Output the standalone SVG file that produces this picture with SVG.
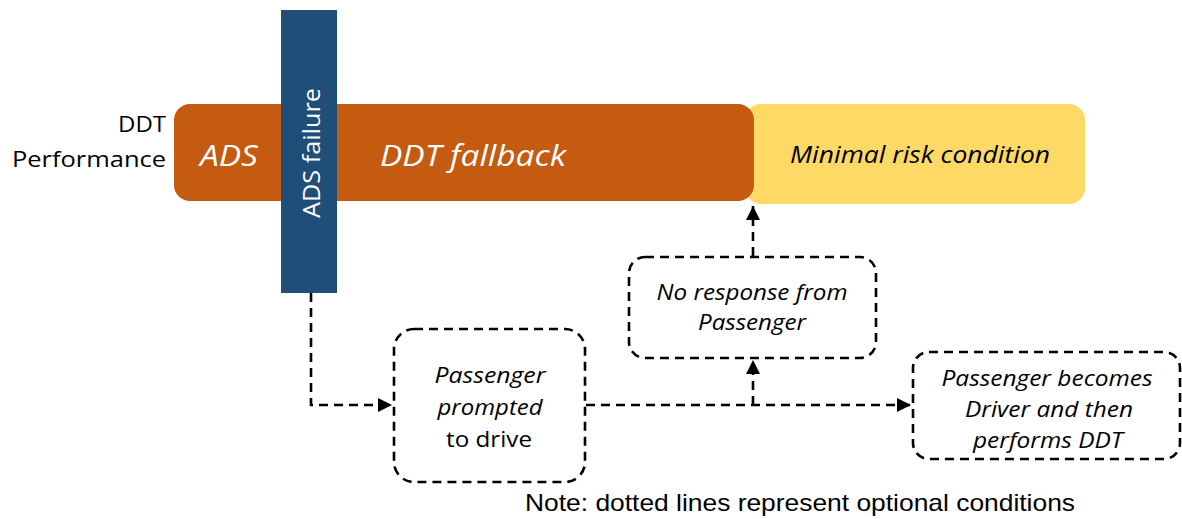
<svg xmlns="http://www.w3.org/2000/svg" width="1182" height="519" viewBox="0 0 1182 519">
<defs>
<style>
.lbl{font-family:"Open Sans","Noto Sans","Liberation Sans",sans-serif;}
.it{font-style:italic;}
.dash{fill:none;stroke:#000;stroke-width:2.6;stroke-dasharray:9,6;}
.box{fill:#fff;stroke:#000;stroke-width:2.6;stroke-dasharray:9,6;}
</style>
<marker id="ah" viewBox="0 0 10 10" refX="10" refY="5" markerWidth="5.5" markerHeight="5.5" orient="auto" markerUnits="strokeWidth">
<path d="M0,0 L10,5 L0,10 z" fill="#000"/>
</marker>
</defs>
<rect width="1182" height="519" fill="#fff"/>
<g id="label-ddt">
<text class="lbl" x="166" y="132" font-size="22" text-anchor="end" fill="#000" textLength="48" lengthAdjust="spacingAndGlyphs">DDT</text>
<text class="lbl" x="166" y="167" font-size="22" text-anchor="end" fill="#000" textLength="154" lengthAdjust="spacingAndGlyphs">Performance</text>
</g>
<g id="node-mrc">
<rect x="745" y="104" width="340" height="100" rx="16" fill="#FFD966"/>
<text class="lbl it" x="920" y="163" font-size="23" text-anchor="middle" fill="#000" textLength="260" lengthAdjust="spacingAndGlyphs">Minimal risk condition</text>
</g>
<g id="node-ddt">
<rect x="174" y="104" width="580" height="97" rx="16" fill="#C55A11"/>
<text class="lbl it" x="229" y="166" font-size="29" text-anchor="middle" fill="#fff" textLength="58" lengthAdjust="spacingAndGlyphs">ADS</text>
<text class="lbl it" x="473" y="166" font-size="29" text-anchor="middle" fill="#fff" textLength="186" lengthAdjust="spacingAndGlyphs">DDT fallback</text>
</g>
<g id="node-failure">
<rect x="281" y="10" width="56" height="283" fill="#1F4E79"/>
<text class="lbl" transform="translate(320,153) rotate(-90)" font-size="23" text-anchor="middle" fill="#fff" textLength="130" lengthAdjust="spacingAndGlyphs">ADS failure</text>
</g>
<g id="connectors">
<path class="dash" d="M311,293 V405 H392" marker-end="url(#ah)"/>
<path class="dash" d="M586,405 H911" marker-end="url(#ah)"/>
<path class="dash" d="M753,405 V360" marker-end="url(#ah)"/>
<path class="dash" d="M753,256 V206" marker-end="url(#ah)"/>
</g>
<g id="node-noresponse">
<rect class="box" x="629" y="257" width="247" height="101" rx="16"/>
<text class="lbl it" x="752" y="300" font-size="22" text-anchor="middle" textLength="191" lengthAdjust="spacingAndGlyphs">No response from</text>
<text class="lbl it" x="752" y="330" font-size="22" text-anchor="middle" textLength="108" lengthAdjust="spacingAndGlyphs">Passenger</text>
</g>
<g id="node-prompted">
<rect class="box" x="394" y="329" width="191" height="153" rx="20"/>
<text class="lbl it" x="490" y="383" font-size="22" text-anchor="middle" textLength="111" lengthAdjust="spacingAndGlyphs">Passenger</text>
<text class="lbl it" x="490" y="415" font-size="22" text-anchor="middle" textLength="105" lengthAdjust="spacingAndGlyphs">prompted</text>
<text class="lbl" x="489" y="447" font-size="22" text-anchor="middle" textLength="86" lengthAdjust="spacingAndGlyphs">to drive</text>
</g>
<g id="node-becomes">
<rect class="box" x="913" y="352" width="267" height="107" rx="16"/>
<text class="lbl it" x="1047" y="386" font-size="22" text-anchor="middle" textLength="211" lengthAdjust="spacingAndGlyphs">Passenger becomes</text>
<text class="lbl it" x="1049" y="417" font-size="22" text-anchor="middle" textLength="168" lengthAdjust="spacingAndGlyphs">Driver and then</text>
<text class="lbl it" x="1048" y="448" font-size="22" text-anchor="middle" textLength="150" lengthAdjust="spacingAndGlyphs">performs DDT</text>
</g>
<g id="note">
<text x="800" y="511" font-family="Liberation Sans,Arial,sans-serif" font-size="24" text-anchor="middle" fill="#000" textLength="550" lengthAdjust="spacingAndGlyphs">Note: dotted lines represent optional conditions</text>
</g>
</svg>
